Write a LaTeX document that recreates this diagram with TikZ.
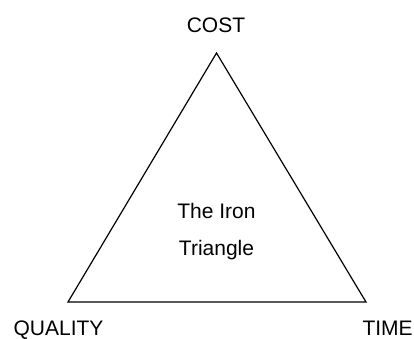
\documentclass[tikz,border=0pt]{standalone}
\usepackage{fontspec}
\setmainfont{Liberation Sans}
\usepackage{tikz}

\begin{document}
\begin{tikzpicture}[x=0.75pt,y=-0.75pt]
\tikzstyle{every node}=[inner sep=0pt,anchor=base,font=\fontsize{15.75}{18}\selectfont];
\useasboundingbox (0,0) rectangle (414,339);
% corners of the triangle
\coordinate (top) at (216.5,53);
\coordinate (left) at (68,302);
\coordinate (right) at (366,302);
\draw[line width=0.9pt,line join=miter] (top) -- (left) -- (right) -- cycle;
% labels
\node (cost) at (216,32) {COST};
\node (quality) at (58.5,335) {QUALITY};
\node[anchor=base east] (time) at (413,335) {TIME};
\node (iron) at (216.5,218) {The Iron};
\node (triangle) at (216.5,255) {Triangle};
\end{tikzpicture}
\end{document}
